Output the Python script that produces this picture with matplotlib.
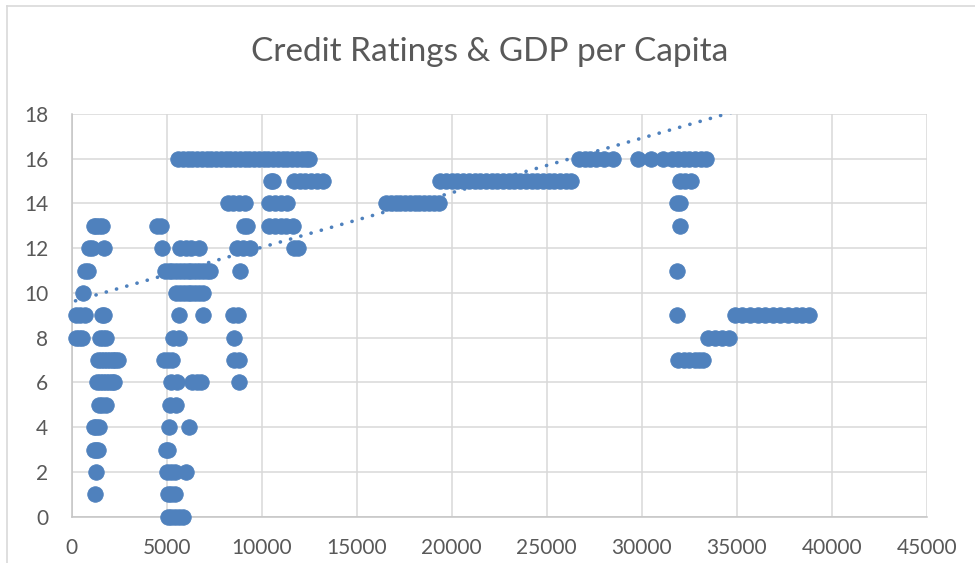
import matplotlib
matplotlib.use("Agg")
import matplotlib.pyplot as plt
from matplotlib.lines import Line2D
import numpy as np

# ---- data (GDP per capita values per credit-rating level) ----
gdp_r0 = [5050, 5250, 5450, 5650, 5850]
gdp_r1 = [1200, 5050, 5250, 5450]
gdp_r2 = [1280, 5000, 5200, 5450, 6000]
gdp_r3 = [1150, 1300, 1400, 4950, 5050]
gdp_r4 = [1150, 1300, 1450, 5100, 6150]
gdp_r5 = [1450, 1600, 1800, 5150, 5500]
gdp_r6 = [1350, 1500, 1650, 1800, 1950, 2100, 2250, 5200, 5550, 6350, 6600, 6800, 8800]
gdp_r7 = [1400, 1550, 1700, 1850, 2000, 2150, 2300, 2450, 4850, 5050, 5300, 8550, 8800,
          31900, 32200, 32500, 32800, 33000, 33250]
gdp_r8 = [200, 400, 550, 1500, 1650, 1800, 5350, 5650, 8550, 33500, 33850, 34200, 34600]
gdp_r9 = [250, 450, 700, 1600, 1700, 5650, 6900, 8500, 8750, 31850, 34900, 35300, 35700,
          36100, 36500, 36900, 37300, 37700, 38100, 38450, 38800]
gdp_r10 = [600, 5500, 5700, 5900, 6100, 6300, 6500, 6700, 6900]
gdp_r11 = [700, 850, 4900, 5100, 5300, 5500, 5700, 5900, 6100, 6300, 6500, 6700, 6900,
           7100, 7300, 8850, 31850]
gdp_r12 = [900, 1050, 1700, 4770, 5700, 6000, 6300, 6700, 8700, 9000, 9400, 11700, 11900]
gdp_r13 = [1150, 1300, 1450, 1600, 4500, 4700, 9050, 9250, 10400, 10700, 11000, 11300,
           11650, 32000]
gdp_r14 = [8200, 8500, 8800, 9100, 10400, 10700, 11000, 11350, 16550, 16800, 17050, 17300,
           17550, 17800, 18050, 18300, 18550, 18800, 19050, 19350, 31850, 32000]
gdp_r15 = [10500, 10600, 11700, 12000, 12300, 12600, 12900, 13200, 19400, 19700, 20000,
           20300, 20600, 20900, 21200, 21500, 21800, 22100, 22400, 22700, 23000, 23300,
           23600, 23900, 24200, 24500, 24800, 25100, 25400, 25700, 26000, 26300, 32000,
           32300, 32600]
gdp_r16 = [5600, 5850, 6100, 6350, 6600, 6850, 7100, 7350, 7600, 7850, 8100, 8350, 8600,
           8850, 9100, 9350, 9600, 9850, 10100, 10350, 10600, 10850, 11100, 11350, 11600,
           11850, 12100, 12350, 12500, 26700, 27000, 27300, 27600, 28000, 28500, 29800,
           30500, 31100, 31600, 31900, 32200, 32500, 32800, 33100, 33400]
rating_levels = list(range(17))

trend_intercept = 9.6
trend_slope = 0.000244

x_ticks = [0, 5000, 10000, 15000, 20000, 25000, 30000, 35000, 40000, 45000]
y_ticks = [0, 2, 4, 6, 8, 10, 12, 14, 16, 18]
title = "Credit Ratings & GDP per Capita"

# ---- assemble ----
groups = [gdp_r0, gdp_r1, gdp_r2, gdp_r3, gdp_r4, gdp_r5, gdp_r6, gdp_r7, gdp_r8, gdp_r9,
          gdp_r10, gdp_r11, gdp_r12, gdp_r13, gdp_r14, gdp_r15, gdp_r16]
gdp = np.concatenate([np.array(g, float) for g in groups])
rating = np.concatenate([np.full(len(g), r, float) for g, r in zip(groups, rating_levels)])

blue = "#4f81bd"
txt = "#595959"
grid = "#d9d9d9"

fig = plt.figure(figsize=(9.75, 5.63), dpi=100)
fig.patch.set_facecolor("white")

# chart-area border (left and top visible)
fig.add_artist(Line2D([7 / 975, 7 / 975], [0, 1 - 6 / 563], transform=fig.transFigure,
                      color=grid, lw=1.2))
fig.add_artist(Line2D([7 / 975, 1], [1 - 6 / 563, 1 - 6 / 563], transform=fig.transFigure,
                      color=grid, lw=1.2))

ax = fig.add_axes([71.7 / 975, 1 - 516.7 / 563, (926.7 - 71.7) / 975, (516.7 - 114) / 563])
ax.set_xlim(0, 45000)
ax.set_ylim(0, 18)
ax.set_xticks(x_ticks)
ax.set_yticks(y_ticks)
ax.set_xticklabels([str(v) for v in x_ticks])
ax.set_yticklabels([str(v) for v in y_ticks])
ax.grid(True, color=grid, lw=1.1, zorder=0)
ax.set_axisbelow(True)
for s in ["top", "right"]:
    ax.spines[s].set_visible(False)
for s in ["left", "bottom"]:
    ax.spines[s].set_color("#c4c4c4")
    ax.spines[s].set_linewidth(1.1)
ax.tick_params(length=0, labelsize=15, labelcolor=txt)
ax.tick_params(axis="x", pad=15)
ax.tick_params(axis="y", pad=17)
for lab in ax.get_xticklabels() + ax.get_yticklabels():
    lab.set_fontfamily("Lato")

ax.scatter(gdp, rating, s=125, color=blue, edgecolors=blue, linewidths=0.6,
           zorder=3, clip_on=False)

xs = np.array([gdp.min(), gdp.max()])
ax.plot(xs, trend_intercept + trend_slope * xs, color=blue, lw=2.6,
        linestyle=(0, (0.05, 2.9)), dash_capstyle="round", zorder=4)

fig.text(490 / 975, 1 - 61 / 563, title, ha="center", va="baseline",
         fontsize=24, color=txt, family="Lato")

fig.savefig("out.png", dpi=100, facecolor="white")
